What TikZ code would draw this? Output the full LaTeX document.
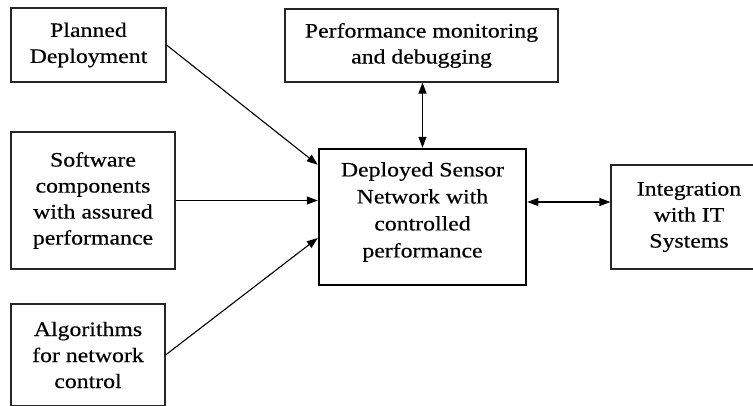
\documentclass[tikz,border=0pt]{standalone}
\usepackage{fontspec}
\setmainfont[FakeStretch=1.16,FakeBold=0.35]{Liberation Serif}
\usetikzlibrary{arrows.meta,calc}

\tikzset{
  box/.style={draw=black!85, line width=1.1pt, align=center, inner sep=0pt,
              font=\fontsize{20.5}{26}\selectfont},
  mainbox/.style={box, line width=2.5pt, draw=black},
  tip/.tip={Triangle[length=11pt,width=8pt]},
  conn/.style={line width=1.1pt, -tip},
  bconn/.style={line width=1.1pt, tip-tip}
}

\begin{document}
\begin{tikzpicture}[x=1pt,y=-1pt]
  \useasboundingbox (0,0) rectangle (753,405);
  \clip (0,0) rectangle (753,405);

  % input boxes on the left
  \node[box, minimum width=155pt, minimum height=74pt] (plan) at (88.5,45)
    {Planned\\Deployment};
  \node[box, minimum width=164pt, minimum height=137pt] (soft) at (93,200.5)
    {Software\\components\\with assured\\performance};
  \node[box, minimum width=154pt, minimum height=102pt] (algo) at (88,355)
    {Algorithms\\for network\\control};

  % monitoring box on top
  \node[box, minimum width=273pt, minimum height=73pt] (perf) at (421.5,45.5)
    {Performance monitoring\\and debugging};

  % central deployed network
  \node[mainbox, minimum width=207pt, minimum height=136pt] (net) at (422.5,217) {};
  \node[font=\fontsize{20.5}{27}\selectfont, align=center, inner sep=0pt] (nettext) at (422.5,212)
    {Deployed Sensor\\Network with\\controlled\\performance};

  % integration box on the right
  \node[box, minimum width=156pt, minimum height=104pt] (integ) at (689,217)
    {Integration\\with IT\\Systems};

  % connectors
  \draw[conn] (plan.east) -- ([yshift=-17pt]net.north west);
  \draw[conn] (soft.east) -- (net.west |- soft.east);
  \draw[conn] (algo.east) -- ([yshift=-21pt]net.west);
  \draw[bconn] (perf.south -| net.north) -- (net.north);
  \draw[bconn] ([yshift=15pt]net.east) -- ([yshift=15pt]integ.west);
\end{tikzpicture}
\end{document}
